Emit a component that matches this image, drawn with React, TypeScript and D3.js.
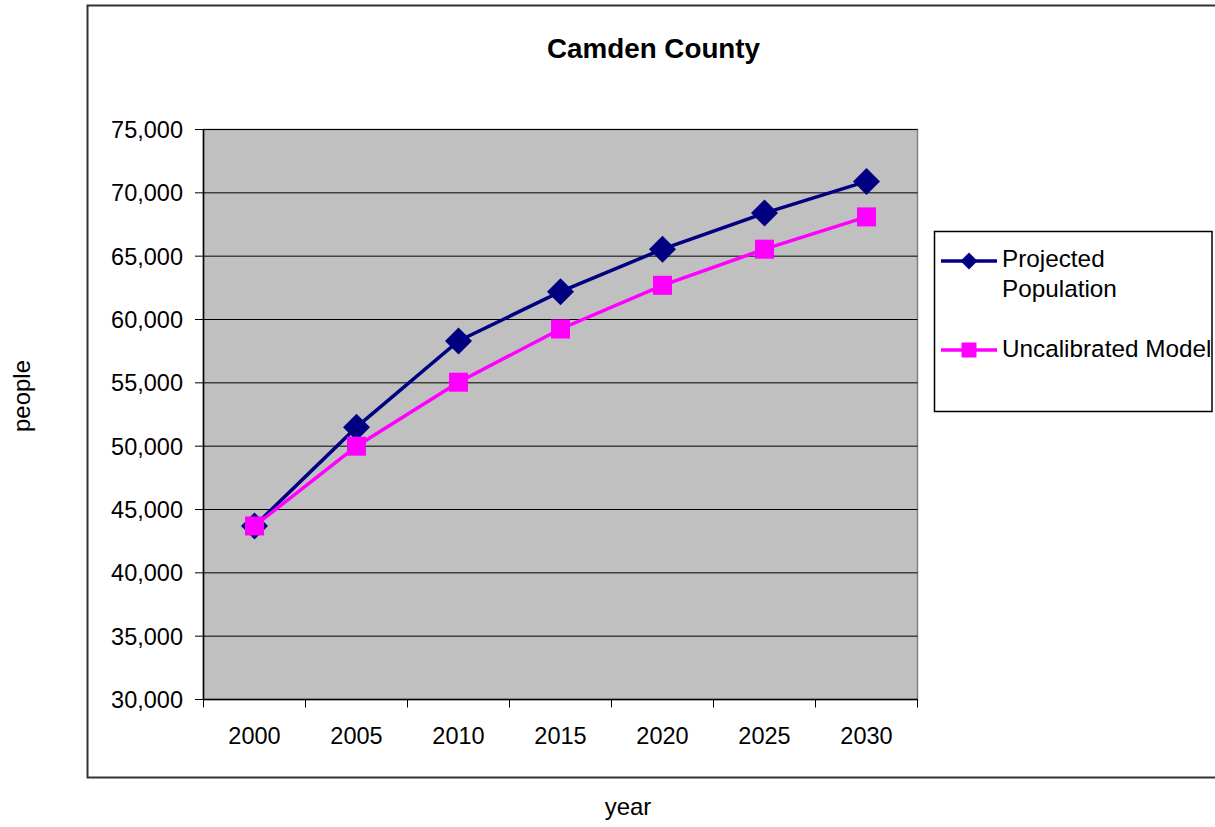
import React from "react";
import * as d3 from "d3";

const years = ["2000", "2005", "2010", "2015", "2020", "2025", "2030"];
const projectedPopulation = [43700, 51500, 58300, 62200, 65550, 68400, 70900];
const uncalibratedModel = [43700, 50000, 55050, 59250, 62700, 65550, 68100];
const yTicks = [30000, 35000, 40000, 45000, 50000, 55000, 60000, 65000, 70000, 75000];
const seriesNames = ["Projected Population", "Uncalibrated Model"];

const W = 1215;
const H = 827;
const FONT = "Liberation Sans, Arial, sans-serif";

export default function App() {
  const left = 203.5, right = 917.5, top = 129.5, bottom = 699.5;
  const x = d3.scaleBand<string>().domain(years).range([left, right]).paddingInner(0).paddingOuter(0);
  const y = d3.scaleLinear().domain([30000, 75000]).range([bottom, top]);
  const cx = (yr: string) => (x(yr) as number) + x.bandwidth() / 2;
  const line = d3.line<number>().x((_, i) => cx(years[i])).y((v) => y(v));
  const fmt = d3.format(",");

  const diamond = (px: number, py: number, r: number) =>
    `M${px},${py - r}L${px + r},${py}L${px},${py + r}L${px - r},${py}Z`;

  const navy = "#000080";
  const magenta = "#FF00FF";

  return (
    <svg width={W} height={H} style={{ position: "absolute", left: 0, top: 0 }} fontFamily={FONT}>
      <rect x={0} y={0} width={W} height={H} fill="#fff" />
      {/* outer chart frame */}
      <rect x={87.5} y={5.5} width={1140} height={772} fill="none" stroke="#333" strokeWidth={2} />
      {/* title */}
      <text x={653.5} y={57.5} textAnchor="middle" fontWeight="bold" fontSize={27.8} fill="#000">
        Camden County
      </text>
      {/* plot area */}
      <rect x={left} y={top} width={right - left} height={bottom - top} fill="#C0C0C0" stroke="#808080" strokeWidth={1.5} />
      {yTicks.map((t) => (
        <g key={t}>
          <line x1={left} x2={right} y1={y(t)} y2={y(t)} stroke="#000" strokeWidth={1} />
          <line x1={195} x2={left} y1={y(t)} y2={y(t)} stroke="#000" strokeWidth={1} />
          <text x={183} y={y(t)} dy="0.36em" textAnchor="end" fontSize={23.5} fill="#000">
            {fmt(t)}
          </text>
        </g>
      ))}
      {/* axes */}
      <line x1={left} x2={left} y1={top} y2={bottom} stroke="#000" strokeWidth={1.5} />
      <line x1={left} x2={right} y1={bottom} y2={bottom} stroke="#000" strokeWidth={1.5} />
      {years.map((yr) => (
        <line key={"t" + yr} x1={x(yr)} x2={x(yr)} y1={bottom} y2={bottom + 8} stroke="#000" strokeWidth={1} />
      ))}
      <line x1={right} x2={right} y1={bottom} y2={bottom + 8} stroke="#000" strokeWidth={1} />
      {years.map((yr) => (
        <text key={"l" + yr} x={cx(yr)} y={743.5} textAnchor="middle" fontSize={23.5} fill="#000">
          {yr}
        </text>
      ))}
      {/* axis titles */}
      <text x={628} y={815} textAnchor="middle" fontSize={24} fill="#000">year</text>
      <text transform="translate(30,396) rotate(-90)" textAnchor="middle" fontSize={24} fill="#000">people</text>
      {/* series */}
      <path d={line(projectedPopulation) || ""} fill="none" stroke={navy} strokeWidth={3.5} />
      {projectedPopulation.map((v, i) => (
        <path key={"d" + i} d={diamond(cx(years[i]), y(v), 13.5)} fill={navy} />
      ))}
      <path d={line(uncalibratedModel) || ""} fill="none" stroke={magenta} strokeWidth={3.5} />
      {uncalibratedModel.map((v, i) => (
        <rect key={"s" + i} x={cx(years[i]) - 9.5} y={y(v) - 9.5} width={19} height={19} fill={magenta} />
      ))}
      {/* legend */}
      <rect x={934.5} y={231.5} width={277.5} height={180} fill="#fff" stroke="#000" strokeWidth={1.5} />
      <line x1={941} x2={997} y1={261} y2={261} stroke={navy} strokeWidth={3.5} />
      <path d={diamond(969, 261, 8.5)} fill={navy} />
      <text x={1002} y={267} fontSize={24.3} fill="#000">Projected</text>
      <text x={1002} y={297} fontSize={24.3} fill="#000">Population</text>
      <line x1={941} x2={997} y1={350} y2={350} stroke={magenta} strokeWidth={3.5} />
      <rect x={961.5} y={342.5} width={15} height={15} fill={magenta} />
      <text x={1002} y={357} fontSize={24.3} fill="#000">{seriesNames[1]}</text>
    </svg>
  );
}
